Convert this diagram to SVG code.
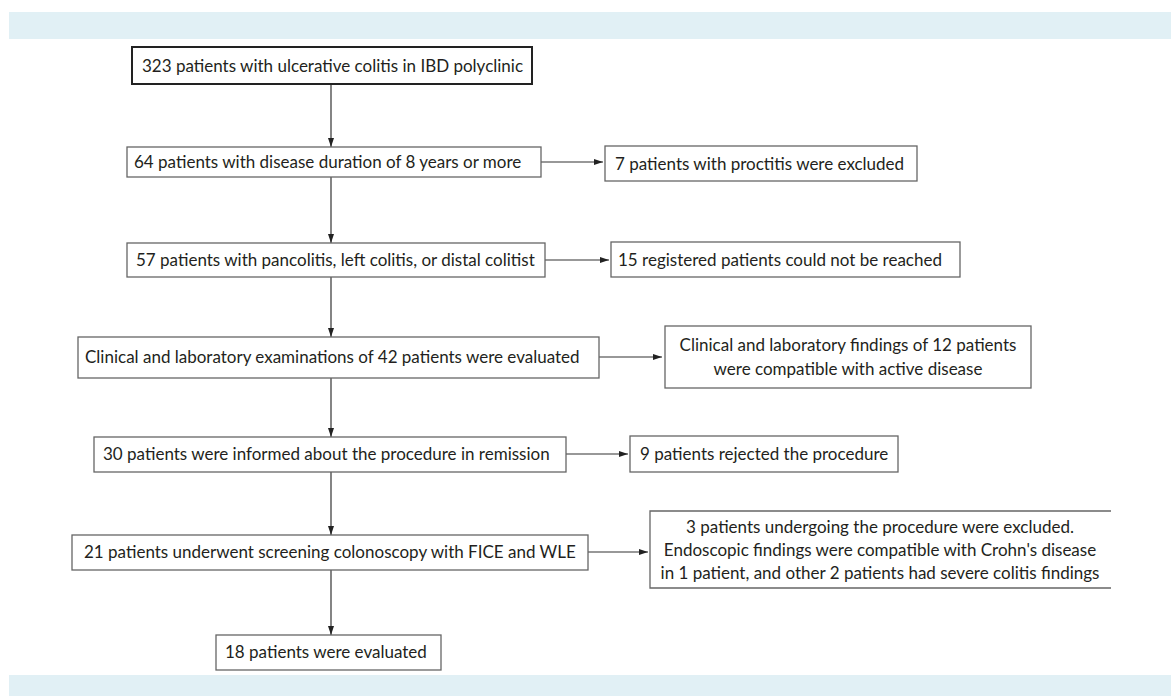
<svg xmlns="http://www.w3.org/2000/svg" width="1171" height="696" viewBox="0 0 1171 696">
<style>
.band{fill:#e1f0f5}
.box{fill:#fff;stroke:#666;stroke-width:1.3}
.box1{fill:#fff;stroke:#222;stroke-width:2}
.t{font-family:Lato,"Liberation Sans",sans-serif;font-size:17px;fill:#231f20}
.c{text-anchor:middle}
.ln{stroke:#333;stroke-width:1.2;fill:none}
</style>
<defs>
<marker id="ah" markerWidth="9" markerHeight="6" refX="9" refY="3" orient="auto" markerUnits="userSpaceOnUse">
<path d="M0,0 L9,3 L0,6 Z" fill="#222"/>
</marker>
</defs>
<rect class="band" x="9" y="12" width="1162" height="27"/>
<rect class="band" x="9" y="675" width="1162" height="21"/>
<g id="connectors">
<line class="ln" x1="331" y1="84" x2="331" y2="147" marker-end="url(#ah)"/>
<line class="ln" x1="331" y1="177" x2="331" y2="243" marker-end="url(#ah)"/>
<line class="ln" x1="331" y1="277" x2="331" y2="337" marker-end="url(#ah)"/>
<line class="ln" x1="331" y1="378" x2="331" y2="437" marker-end="url(#ah)"/>
<line class="ln" x1="331" y1="472" x2="331" y2="535" marker-end="url(#ah)"/>
<line class="ln" x1="331" y1="570" x2="331" y2="635" marker-end="url(#ah)"/>
<line class="ln" x1="541" y1="162" x2="603" y2="162" marker-end="url(#ah)"/>
<line class="ln" x1="545" y1="260" x2="609" y2="260" marker-end="url(#ah)"/>
<line class="ln" x1="599" y1="357" x2="662" y2="357" marker-end="url(#ah)"/>
<line class="ln" x1="566" y1="454" x2="628" y2="454" marker-end="url(#ah)"/>
<line class="ln" x1="588" y1="552" x2="648" y2="552" marker-end="url(#ah)"/>
</g>
<g id="n1"><rect class="box1" x="132" y="47" width="400" height="37"/><text class="t" x="142" y="71.5">323 patients with ulcerative colitis in IBD polyclinic</text></g>
<g id="n2"><rect class="box" x="127" y="147" width="414" height="30"/><text class="t" x="134" y="168">64 patients with disease duration of 8 years or more</text></g>
<g id="n3"><rect class="box" x="605" y="146" width="312" height="35"/><text class="t" x="615" y="169.5">7 patients with proctitis were excluded</text></g>
<g id="n4"><rect class="box" x="127" y="243" width="418" height="34"/><text class="t" x="136" y="266">57 patients with pancolitis, left colitis, or distal colitist</text></g>
<g id="n5"><rect class="box" x="611" y="242" width="349" height="35"/><text class="t" x="618" y="266">15 registered patients could not be reached</text></g>
<g id="n6"><rect class="box" x="78" y="337" width="521" height="41"/><text class="t" x="85" y="363">Clinical and laboratory examinations of 42 patients were evaluated</text></g>
<g id="n7"><rect class="box" x="665" y="326" width="366" height="62"/><text class="t c" x="848" y="351">Clinical and laboratory findings of 12 patients</text><text class="t c" x="848" y="375">were compatible with active disease</text></g>
<g id="n8"><rect class="box" x="94" y="437" width="472" height="35"/><text class="t" x="103" y="460">30 patients were informed about the procedure in remission</text></g>
<g id="n9"><rect class="box" x="630" y="436" width="268" height="36"/><text class="t" x="640" y="460">9 patients rejected the procedure</text></g>
<g id="n10"><rect class="box" x="72" y="535" width="516" height="35"/><text class="t" x="84" y="558">21 patients underwent screening colonoscopy with FICE and WLE</text></g>
<g id="n11"><path class="box" d="M1111,511 H650 V588 H1111"/><text class="t c" x="880" y="533">3 patients undergoing the procedure were excluded.</text><text class="t c" x="880" y="556">Endoscopic findings were compatible with Crohn's disease</text><text class="t c" x="880" y="579">in 1 patient, and other 2 patients had severe colitis findings</text></g>
<g id="n12"><rect class="box" x="216" y="635" width="225" height="35"/><text class="t" x="225" y="658">18 patients were evaluated</text></g>
</svg>
